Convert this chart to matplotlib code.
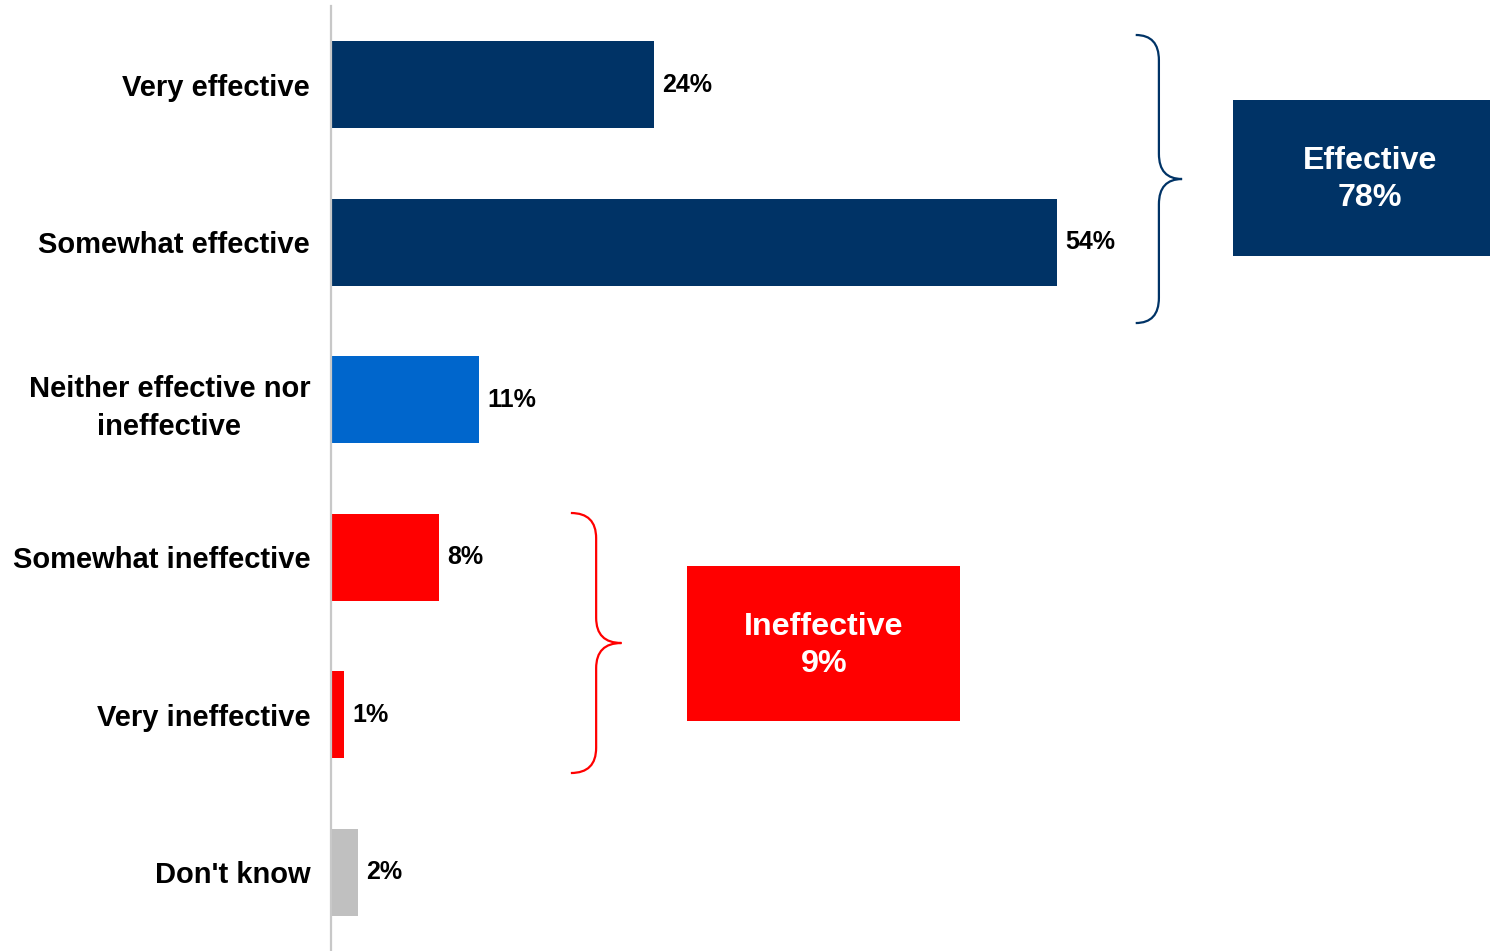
import matplotlib.pyplot as plt
from matplotlib.path import Path
from matplotlib.patches import PathPatch, Rectangle

plt.rcParams['font.family'] = ['Liberation Sans', 'DejaVu Sans']
plt.rcParams['font.weight'] = 'bold'

categories = ['Very effective', 'Somewhat effective',
              'Neither effective nor\nineffective', 'Somewhat ineffective',
              'Very ineffective', "Don't know"]
values = [24, 54, 11, 8, 1, 2]
bar_colors = ['#003366', '#003366', '#0066CC', '#FF0000', '#FF0000', '#C0C0C0']

group_names = ['Effective', 'Ineffective']
group_totals = [78, 9]
group_colors = ['#003366', '#FF0000']


def brace(ax, x0, xtip, ytop, ybot, r, color):
    # curly brace opening to the left, tip pointing right
    xm = (x0 + xtip) / 2
    yc = (ytop + ybot) / 2
    verts = [(x0, ytop), (xm, ytop), (xm, ytop + r),
             (xm, yc - r),
             (xm, yc), (xtip, yc),
             (xtip, yc), (xm, yc), (xm, yc + r),
             (xm, ybot - r),
             (xm, ybot), (x0, ybot)]
    codes = [Path.MOVETO, Path.CURVE3, Path.CURVE3,
             Path.LINETO,
             Path.CURVE3, Path.CURVE3,
             Path.MOVETO, Path.CURVE3, Path.CURVE3,
             Path.LINETO,
             Path.CURVE3, Path.CURVE3]
    ax.add_patch(PathPatch(Path(verts, codes), fill=False, edgecolor=color,
                           lw=1.6, clip_on=False))


fig = plt.figure(figsize=(14.9, 9.51), dpi=100)
ax = fig.add_axes([331 / 1490, 0, 1 - 331 / 1490, 945 / 951])

y = list(range(len(categories)))
ax.barh(y, values, height=0.55, color=bar_colors)
for yi, v in zip(y, values):
    ax.annotate(f'{v}%', (v, yi), xytext=(6, 0), textcoords='offset points',
                ha='left', va='center', fontsize=18, fontweight='bold')

ax.set_xlim(0, 86.2)
ax.set_ylim(5.5, -0.5)
ax.set_yticks(y)
ax.set_yticklabels(categories, fontsize=21, fontweight='bold')
for lbl in ax.get_yticklabels():
    lbl.set_multialignment('center')
    lbl.set_linespacing(1.48)
ax.tick_params(axis='y', length=0, pad=15)
ax.set_xticks([])
for s in ['top', 'right', 'bottom']:
    ax.spines[s].set_visible(False)
ax.spines['left'].set_color('#C8C8C8')
ax.spines['left'].set_linewidth(1.6)

# braces and summary boxes for the grouped answers
brace(ax, 59.85, 63.3, -0.316, 1.513, 0.16, group_colors[0])
brace(ax, 17.84, 21.6, 2.719, 4.37, 0.16, group_colors[1])

boxes = [(67.1, 0.097, 19.1, 0.99), (26.5, 3.056, 20.3, 0.984)]
text_dx = [0.6, 0.0]
for (bx, by, bw, bh), name, tot, col, dx in zip(boxes, group_names,
                                                 group_totals, group_colors,
                                                 text_dx):
    ax.add_patch(Rectangle((bx, by), bw, bh, facecolor=col, edgecolor='none',
                           clip_on=False))
    ax.text(bx + bw / 2 + dx, by + bh / 2 + 0.01, f'{name}\n{tot}%',
            ha='center', va='center', color='white', fontsize=23.2,
            fontweight='bold', linespacing=1.3)

fig.savefig('out.png', dpi=100)
